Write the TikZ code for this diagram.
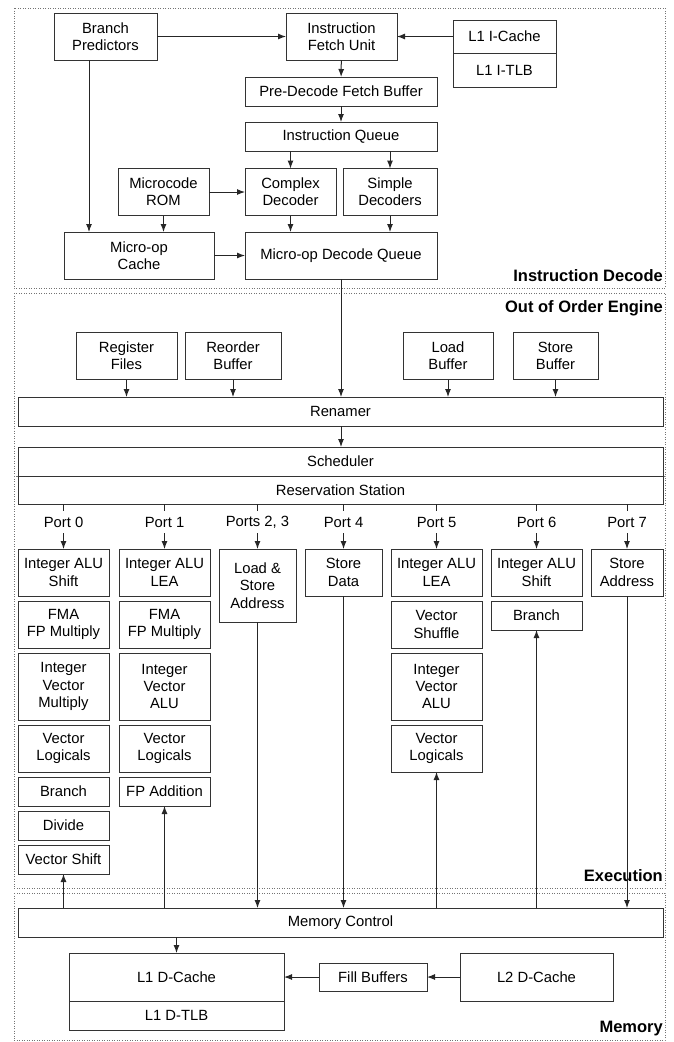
\documentclass[tikz,border=0pt]{standalone}
\usepackage{fontspec}
\setmainfont{Liberation Sans}
\usetikzlibrary{positioning,arrows.meta}

\begin{document}
\begin{tikzpicture}[x=1pt,y=-1pt,
                    box/.style = {draw=black!80, line width=1pt, fill=white, align=center, inner sep=0pt, outer sep=0pt, font=\fontsize{14.8}{17.3}\selectfont},
                    h1/.style = {minimum height=29pt},
                    h2/.style = {minimum height=47pt},
                    h3/.style = {minimum height=67pt},
                    col/.style = {box, minimum width=91pt},
                    port/.style = {inner sep=0pt, outer sep=0pt, minimum height=22pt, font=\fontsize{14.8}{17.3}\selectfont},
                    region/.style = {draw=black!55, line width=0.9pt, dash pattern=on 0.9pt off 1.6pt},
                    areaname/.style = {anchor=base east, inner sep=0pt, font=\fontsize{16.5}{18}\selectfont\bfseries},
                    wire/.style = {draw=black!85, line width=1pt},
                    arr/.style = {wire, -{Latex[length=8pt,width=6pt]}}]
    \useasboundingbox (0,0) rectangle (674,1042);

    \draw[region] (14,8) rectangle (665,288);
    \draw[region] (14,293) rectangle (665,476);
    \draw[region] (14,476) rectangle (665,888);
    \draw[region] (14,893) rectangle (665,1040);
    \node[areaname] (tdec) at (663,281) {Instruction Decode};
    \node[areaname] (tooo) at (663,312) {Out of Order Engine};
    \node[areaname] (texe) at (663,881) {Execution};
    \node[areaname] (tmem) at (663,1032) {Memory};

    \node[box, h2, minimum width=103pt] (bp) at (105.5,36.5) {Branch\\Predictors};
    \node[box, h2, minimum width=111pt] (ifu) at (341.5,36.5) {Instruction\\Fetch Unit};
    \node[box, minimum height=33pt, minimum width=103pt] (ic) at (504.5,36.5) {L1 I-Cache};
    \node[box, minimum height=34pt, minimum width=103pt] (itlb) [below=0pt of ic] {L1 I-TLB};
    \node[box, h1, minimum width=192pt] (pdfb) at (341,91.5) {Pre-Decode Fetch Buffer};
    \node[box, h1, minimum width=192pt] (iq) [below=16pt of pdfb] {Instruction Queue};
    \node[box, h2, minimum width=91pt] (cd) at (290.5,192) {Complex\\Decoder};
    \node[box, h2, minimum width=94pt] (sd) at (390,192) {Simple\\Decoders};
    \node[box, h2, minimum width=91pt] (mrom) at (163.5,192) {Microcode\\ROM};
    \node[box, h2, minimum width=150pt] (mcache) at (139,255.5) {Micro-op\\Cache};
    \node[box, h2, minimum width=192pt] (mdq) at (341,255.5) {Micro-op Decode Queue};

    \draw[arr] (bp) -- (ifu);
    \draw[arr] (ic) -- (ifu);
    \draw[arr] (ifu) -- (pdfb);
    \draw[arr] (pdfb) -- (iq);
    \draw[arr] (iq.south -| cd) -- (cd);
    \draw[arr] (iq.south -| sd) -- (sd);
    \draw[arr] (cd) -- (cd |- mdq.north);
    \draw[arr] (sd) -- (sd |- mdq.north);
    \draw[arr] (mrom) -- (cd);
    \draw[arr] (mrom) -- (mrom |- mcache.north);
    \draw[arr] ([xshift=-16.5pt]bp.south) -- ([xshift=-16.5pt]bp.south |- mcache.north);
    \draw[arr] (mcache) -- (mdq);

    \node[box, h2, minimum width=101pt] (rf) at (126.5,356) {Register\\Files};
    \node[box, h2, minimum width=96pt] (rob) at (233,356) {Reorder\\Buffer};
    \node[box, h2, minimum width=90pt] (lb) at (448,356) {Load\\Buffer};
    \node[box, h2, minimum width=85pt] (sb) at (555.5,356) {Store\\Buffer};
    \node[box, h1, minimum width=645pt] (ren) at (340.5,411.5) {Renamer};
    \node[box, h1, minimum width=645pt] (sch) at (340.5,461.5) {Scheduler};
    \node[box, minimum height=28pt, minimum width=645pt] (rs) [below=0pt of sch] {Reservation Station};

    \draw[arr] (mdq) -- (mdq |- ren.north);
    \draw[arr] (rf) -- (rf |- ren.north);
    \draw[arr] (rob) -- (rob |- ren.north);
    \draw[arr] (lb) -- (lb |- ren.north);
    \draw[arr] (sb) -- (sb |- ren.north);
    \draw[arr] (ren.south -| mdq) -- (sch.north -| mdq);

    \node[col, h2] (alu0) at (63.5,572.5) {Integer ALU\\Shift};
    \node[col, h2] (fma0) [below=5pt of alu0] {FMA\\FP Multiply};
    \node[col, h3] (ivm0) [below=5pt of fma0] {Integer\\Vector\\Multiply};
    \node[col, h2] (vl0) [below=5pt of ivm0] {Vector\\Logicals};
    \node[col, h1] (br0) [below=5pt of vl0] {Branch};
    \node[col, h1] (div0) [below=5pt of br0] {Divide};
    \node[col, h1] (vs0) [below=5pt of div0] {Vector Shift};

    \node[col, h2] (alu1) at (164.5,572.5) {Integer ALU\\LEA};
    \node[col, h2] (fma1) [below=5pt of alu1] {FMA\\FP Multiply};
    \node[col, h3] (iva1) [below=5pt of fma1] {Integer\\Vector\\ALU};
    \node[col, h2] (vl1) [below=5pt of iva1] {Vector\\Logicals};
    \node[col, h1] (fpa1) [below=5pt of vl1] {FP Addition};

    \node[box, minimum height=73pt, minimum width=77pt] (lsa) at (257.5,585.5) {Load \&\\Store\\Address};
    \node[box, h2, minimum width=77pt] (sd4) at (343.5,572.5) {Store\\Data};

    \node[col, h2] (alu5) at (436.5,572.5) {Integer ALU\\LEA};
    \node[col, h2] (vsh5) [below=5pt of alu5] {Vector\\Shuffle};
    \node[col, h3] (iva5) [below=5pt of vsh5] {Integer\\Vector\\ALU};
    \node[col, h2] (vl5) [below=5pt of iva5] {Vector\\Logicals};

    \node[col, h2] (alu6) at (536.5,572.5) {Integer ALU\\Shift};
    \node[col, h1] (br6) [below=5pt of alu6] {Branch};

    \node[box, h2, minimum width=72pt] (sa7) at (627,572.5) {Store\\Address};

    \node[port] (p0) [above=16pt of alu0] {Port 0};
    \node[port] (p1) [above=16pt of alu1] {Port 1};
    \node[port] (p23) at (p1 -| lsa) {Ports 2, 3};
    \node[port] (p4) [above=16pt of sd4] {Port 4};
    \node[port] (p5) [above=16pt of alu5] {Port 5};
    \node[port] (p6) [above=16pt of alu6] {Port 6};
    \node[port] (p7) [above=16pt of sa7] {Port 7};

    \draw[wire] (rs.south -| p0) -- (p0);
    \draw[wire] (rs.south -| p1) -- (p1);
    \draw[wire] (rs.south -| p23) -- (p23);
    \draw[wire] (rs.south -| p4) -- (p4);
    \draw[wire] (rs.south -| p5) -- (p5);
    \draw[wire] (rs.south -| p6) -- (p6);
    \draw[wire] (rs.south -| p7) -- (p7);
    \draw[arr] (p0) -- (alu0);
    \draw[arr] (p1) -- (alu1);
    \draw[arr] (p23) -- (lsa);
    \draw[arr] (p4) -- (sd4);
    \draw[arr] (p5) -- (alu5);
    \draw[arr] (p6) -- (alu6);
    \draw[arr] (p7) -- (sa7);

    \node[box, h1, minimum width=645pt] (mctl) at (340.5,922.5) {Memory Control};
    \node[box, minimum height=48pt, minimum width=215pt] (l1d) at (176.5,977) {L1 D-Cache};
    \node[box, h1, minimum width=215pt] (l1dtlb) [below=0pt of l1d] {L1 D-TLB};
    \node[box, minimum height=28pt, minimum width=108pt] (fb) at (373,977) {Fill Buffers};
    \node[box, minimum height=48pt, minimum width=153pt] (l2) at (536.5,977) {L2 D-Cache};

    \draw[arr] (mctl.north -| vs0) -- (vs0);
    \draw[arr] (mctl.north -| fpa1) -- (fpa1);
    \draw[arr] (lsa) -- (lsa |- mctl.north);
    \draw[arr] (sd4) -- (sd4 |- mctl.north);
    \draw[arr] (mctl.north -| vl5) -- (vl5);
    \draw[arr] (mctl.north -| br6) -- (br6);
    \draw[arr] (sa7) -- (sa7 |- mctl.north);
    \draw[arr] (mctl.south -| l1d) -- (l1d);
    \draw[arr] (l2) -- (fb);
    \draw[arr] (fb) -- (l1d);
\end{tikzpicture}
\end{document}
